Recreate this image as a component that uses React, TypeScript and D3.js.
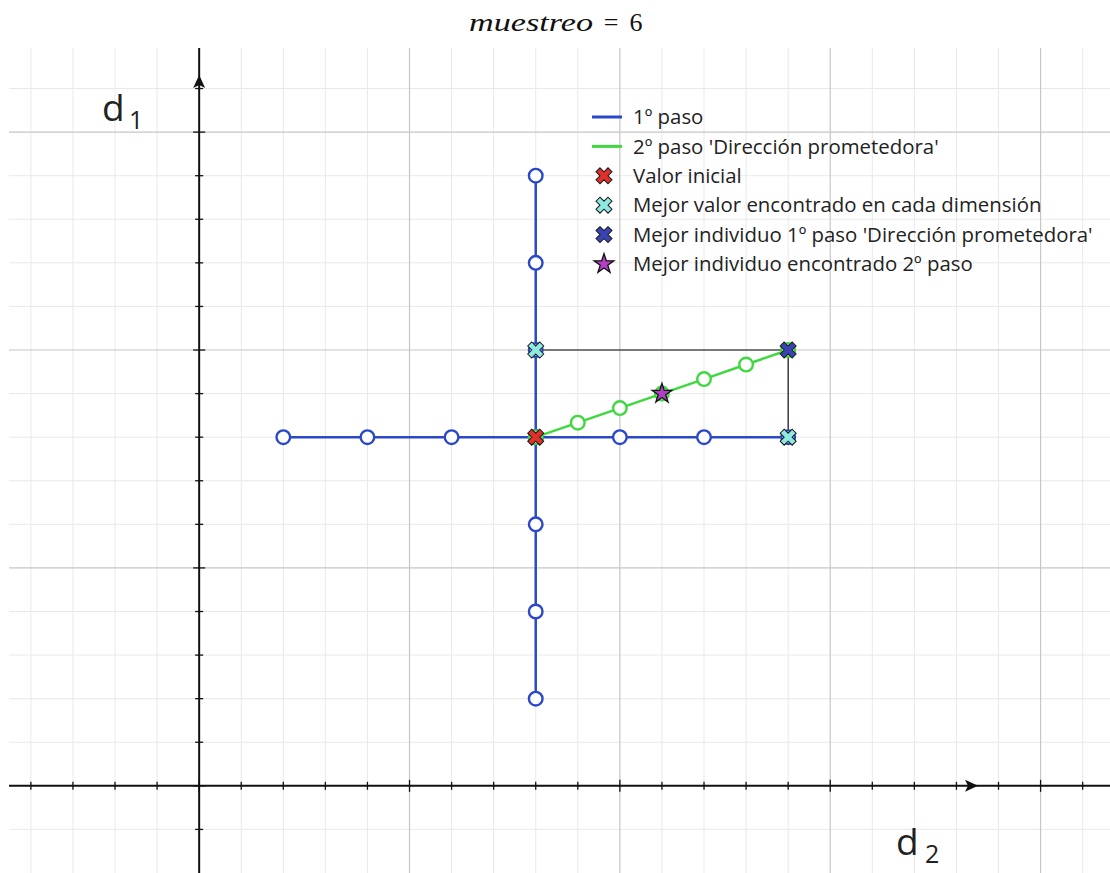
import React from "react";
import * as d3 from "d3";

const W = 1110;
const H = 873;

// Data (grid units: one minor grid cell = 1, major line every 5)
const centre: [number, number] = [8, 8];
const step1X = [2, 4, 6, 8, 10, 12, 14]; // horizontal exploration along d2 (at d1 = 8)
const step1Y = [2, 4, 6, 8, 10, 12, 14]; // vertical exploration along d1 (at d2 = 8)
const step2X = [8, 9, 10, 11, 12, 13, 14];
const step2Y = [8, 8.333, 8.667, 9, 9.333, 9.667, 10];
const bestPerDim: [number, number][] = [
  [8, 10],
  [14, 8],
];
const bestStep1: [number, number] = [14, 10];
const bestStep2: [number, number] = [11, 9];
const boxPath: [number, number][] = [
  [8, 10],
  [14, 10],
  [14, 8],
];

const legendLabels = [
  "1º paso",
  "2º paso 'Dirección prometedora'",
  "Valor inicial",
  "Mejor valor encontrado en cada dimensión",
  "Mejor individuo 1º paso 'Dirección prometedora'",
  "Mejor individuo encontrado 2º paso",
];

const BLUE = "#2b48c8";
const GREEN = "#3fd83f";
const RED = "#e0302c";
const CYAN = "#8eeae0";
const DARKBLUE = "#3a43b4";
const PURPLE = "#b23fc4";

const x = d3.scaleLinear().domain([-4.52, 21.65]).range([9, W]);
const y = d3.scaleLinear().domain([-2, 16.93]).range([H, 48]);

const xTicks = d3.range(-4, 22);
const yTicks = d3.range(-1, 17);

const crossPath = d3.symbol(d3.symbolCross, 160)() as string;
const starPath = d3.symbol(d3.symbolStar, 120)() as string;

function XMark({ cx, cy, fill }: { cx: number; cy: number; fill: string }) {
  return (
    <path
      d={crossPath}
      transform={`translate(${cx},${cy}) rotate(45)`}
      fill={fill}
      stroke="#1a1a1a"
      strokeWidth={1}
    />
  );
}

function Star({ cx, cy }: { cx: number; cy: number }) {
  return (
    <path
      d={starPath}
      transform={`translate(${cx},${cy})`}
      fill={PURPLE}
      stroke="#111"
      strokeWidth={1.3}
    />
  );
}

export default function App() {
  const line = d3
    .line<[number, number]>()
    .x((d) => x(d[0]))
    .y((d) => y(d[1]));

  const hPts: [number, number][] = step1X.map((v) => [v, centre[1]]);
  const vPts: [number, number][] = step1Y.map((v) => [centre[0], v]);
  const gPts: [number, number][] = step2X.map((v, i) => [v, step2Y[i]]);

  const x0 = x(0);
  const y0 = y(0);

  const legX = 592;
  const legY0 = 117;
  const legDy = 29.4;

  return (
    <svg
      width={W}
      height={H}
      style={{ position: "absolute", left: 0, top: 0, background: "#fff" }}
      fontFamily="'Open Sans', sans-serif"
    >
      <rect x={0} y={0} width={W} height={H} fill="#fff" />
      {/* title */}
      <g fontFamily="'Liberation Serif', serif" fontSize={26} fill="#111">
        <text x={469} y={31} fontStyle="italic" textLength={124} lengthAdjust="spacingAndGlyphs">
          muestreo
        </text>
        <text x={611} y={31} textAnchor="middle">
          =
        </text>
        <text x={636} y={31} textAnchor="middle">
          6
        </text>
      </g>

      {/* minor grid */}
      <g stroke="#e9e9e9" strokeWidth={1}>
        {xTicks
          .filter((t) => t % 5 !== 0)
          .map((t) => (
            <line key={"vx" + t} x1={x(t)} x2={x(t)} y1={48} y2={H} />
          ))}
        {yTicks
          .filter((t) => t % 5 !== 0)
          .map((t) => (
            <line key={"hy" + t} x1={9} x2={W} y1={y(t)} y2={y(t)} />
          ))}
      </g>
      {/* major grid */}
      <g stroke="#c6c6c6" strokeWidth={1.2}>
        {xTicks
          .filter((t) => t % 5 === 0 && t !== 0)
          .map((t) => (
            <line key={"Vx" + t} x1={x(t)} x2={x(t)} y1={48} y2={H} />
          ))}
        {yTicks
          .filter((t) => t % 5 === 0 && t !== 0)
          .map((t) => (
            <line key={"Hy" + t} x1={9} x2={W} y1={y(t)} y2={y(t)} />
          ))}
      </g>

      {/* axes */}
      <g stroke="#111" strokeWidth={2}>
        <line x1={9} x2={W} y1={y0} y2={y0} />
        <line x1={x0} x2={x0} y1={48} y2={H} />
        {xTicks.map((t) => (
          <line
            key={"tx" + t}
            x1={x(t)}
            x2={x(t)}
            y1={y0 - (t % 5 === 0 ? 6 : 4)}
            y2={y0 + (t % 5 === 0 ? 6 : 4)}
            strokeWidth={1.3}
          />
        ))}
        {yTicks.map((t) => (
          <line
            key={"ty" + t}
            x1={x0 - (t % 5 === 0 ? 6 : 4)}
            x2={x0 + (t % 5 === 0 ? 6 : 4)}
            y1={y(t)}
            y2={y(t)}
            strokeWidth={1.3}
          />
        ))}
      </g>
      {/* arrows */}
      <path
        d={`M${x0},75 L${x0 + 6},88 L${x0},85 L${x0 - 6},88 Z`}
        fill="#111"
      />
      <path
        d={`M978,${y0} L965,${y0 - 6} L968,${y0} L965,${y0 + 6} Z`}
        fill="#111"
      />

      {/* axis labels */}
      <text x={102} y={121} fontSize={37} fill="#222">
        d
      </text>
      <text x={129} y={129} fontSize={25} fill="#222">
        1
      </text>
      <text x={896} y={855} fontSize={37} fill="#222">
        d
      </text>
      <text x={925} y={863} fontSize={25} fill="#222">
        2
      </text>

      {/* black box */}
      <path d={line(boxPath) as string} fill="none" stroke="#111" strokeWidth={1.2} />

      {/* step 1 lines */}
      <path d={line(hPts) as string} fill="none" stroke={BLUE} strokeWidth={2.5} />
      <path d={line(vPts) as string} fill="none" stroke={BLUE} strokeWidth={2.5} />
      {[...hPts, ...vPts].map((p, i) => (
        <circle
          key={"b" + i}
          cx={x(p[0])}
          cy={y(p[1])}
          r={6.8}
          fill="#fff"
          stroke={BLUE}
          strokeWidth={2.4}
        />
      ))}

      {/* step 2 */}
      <path d={line(gPts) as string} fill="none" stroke={GREEN} strokeWidth={2.5} />
      {gPts.map((p, i) => (
        <circle
          key={"g" + i}
          cx={x(p[0])}
          cy={y(p[1])}
          r={6.8}
          fill="#fff"
          stroke={GREEN}
          strokeWidth={2.4}
        />
      ))}

      {/* markers */}
      {bestPerDim.map((p, i) => (
        <XMark key={"c" + i} cx={x(p[0])} cy={y(p[1])} fill={CYAN} />
      ))}
      <XMark cx={x(bestStep1[0])} cy={y(bestStep1[1])} fill={DARKBLUE} />
      <XMark cx={x(centre[0])} cy={y(centre[1])} fill={RED} />
      <Star cx={x(bestStep2[0])} cy={y(bestStep2[1])} />

      {/* legend */}
      <g>
        <line x1={legX} x2={legX + 30} y1={legY0} y2={legY0} stroke={BLUE} strokeWidth={3} />
        <line
          x1={legX}
          x2={legX + 30}
          y1={legY0 + legDy}
          y2={legY0 + legDy}
          stroke={GREEN}
          strokeWidth={3}
        />
        <XMark cx={legX + 12} cy={legY0 + 2 * legDy} fill={RED} />
        <XMark cx={legX + 12} cy={legY0 + 3 * legDy} fill={CYAN} />
        <XMark cx={legX + 12} cy={legY0 + 4 * legDy} fill={DARKBLUE} />
        <Star cx={legX + 12} cy={legY0 + 5 * legDy} />
        {legendLabels.map((l, i) => (
          <text
            key={l}
            x={633}
            y={legY0 + i * legDy}
            dy="0.35em"
            fontSize={20.4}
            fill="#222"
          >
            {l}
          </text>
        ))}
      </g>
    </svg>
  );
}
